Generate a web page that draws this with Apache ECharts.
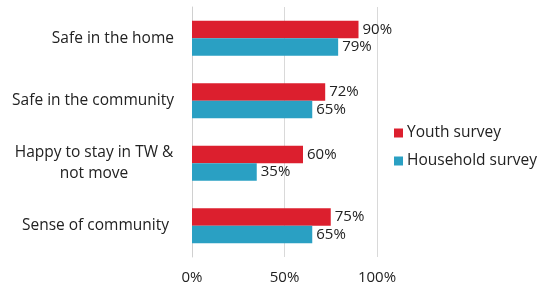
<!DOCTYPE html>
<html><head><meta charset="utf-8">
<script src="https://cdn.jsdelivr.net/npm/echarts@6/dist/echarts.min.js"></script>
<style>html,body{margin:0;padding:0;background:#fff}#c{width:549px;height:289px}</style>
</head><body><div id="c"></div>
<script>
var categories = ['Safe in the home', 'Safe in the community', 'Happy to stay in TW &\nnot move', 'Sense of community'];
var youth = [90, 72, 60, 75];
var household = [79, 65, 35, 65];
var xTicks = [0, 50, 100];
var seriesNames = ['Youth survey', 'Household survey'];

var font = '"Open Sans", sans-serif';
var chart = echarts.init(document.getElementById('c'), null, {renderer: 'canvas'});
chart.setOption({
  animation: false,
  backgroundColor: '#fff',
  grid: {left: 192, right: 172, top: 7, bottom: 32, containLabel: false},
  legend: {
    orient: 'vertical', left: 389, top: 120, itemWidth: 9, itemHeight: 9, itemGap: 12, icon: 'rect',
    textStyle: {fontFamily: font, fontSize: 15.5, color: '#222', padding: [0, 0, 0, -1]},
    data: seriesNames
  },
  xAxis: {
    type: 'value', min: xTicks[0], max: xTicks[xTicks.length - 1], interval: 50,
    axisLine: {show: false}, axisTick: {show: false},
    splitLine: {lineStyle: {color: '#d9d9d9'}},
    axisLabel: {formatter: '{value}%', fontFamily: font, fontSize: 15, color: '#222', margin: 13}
  },
  yAxis: {
    type: 'category', inverse: true, data: categories,
    axisLine: {lineStyle: {color: '#d0d0d0'}},
    axisTick: {length: 6, lineStyle: {color: '#d0d0d0'}},
    axisLabel: {
      fontFamily: font, fontSize: 15.5, color: '#222', margin: 18, lineHeight: 21, align: 'right',
      formatter: function (v) {
        if (v.indexOf('\n') >= 0) {
          return v.split('\n').map(function (s) { return '{c|' + s + '}'; }).join('\n');
        }
        if (v === 'Sense of community') return '{s|' + v + '}';
        return v;
      },
      rich: {
        c: {width: 160, align: 'center', fontFamily: font, fontSize: 15.5, color: '#222', lineHeight: 21},
        s: {padding: [0, 5, 0, 0], fontFamily: font, fontSize: 15.5, color: '#222'}
      }
    }
  },
  series: [
    {name: seriesNames[0], type: 'bar', data: youth, barGap: '0%', barCategoryGap: '44%',
     itemStyle: {color: '#dc1f2e'},
     label: {show: true, position: 'right', distance: 4, formatter: '{c}%', fontFamily: font, fontSize: 15, color: '#222'}},
    {name: seriesNames[1], type: 'bar', data: household, barGap: '0%', barCategoryGap: '44%',
     itemStyle: {color: '#2aa0c3'},
     label: {show: true, position: 'right', distance: 4, formatter: '{c}%', fontFamily: font, fontSize: 15, color: '#222'}}
  ]
});
</script></body></html>
